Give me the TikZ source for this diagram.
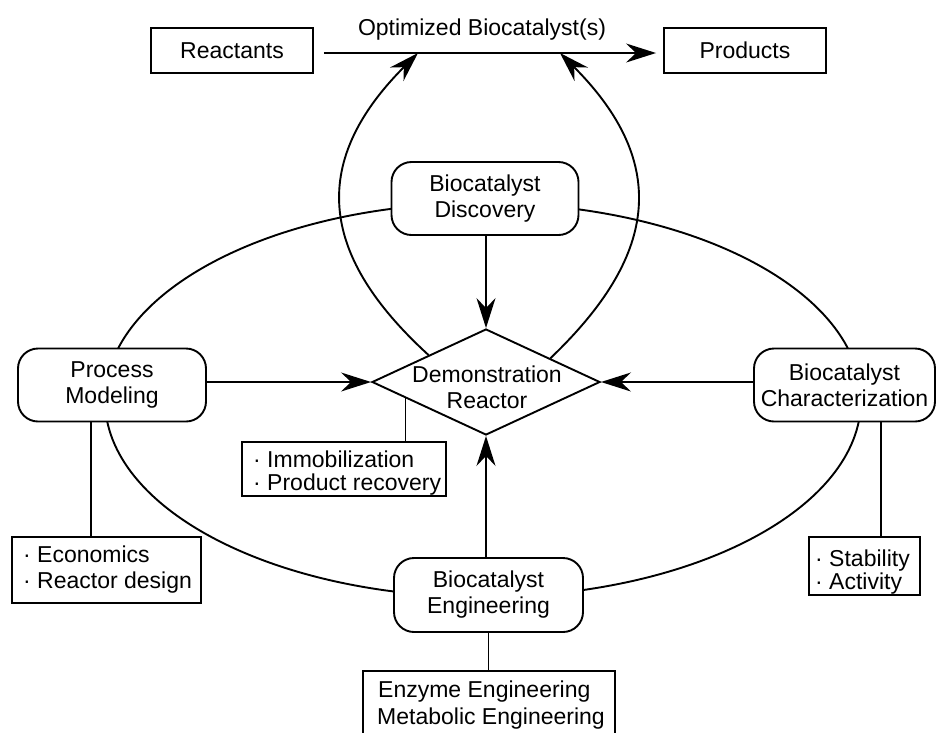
\documentclass[tikz,border=0pt]{standalone}
\usepackage{fontspec}
\setmainfont{Liberation Sans}
\usetikzlibrary{arrows.meta,shapes.geometric,calc}
\begin{document}
\begin{tikzpicture}[x=1pt,y=-1pt,
  every node/.style={font=\fontsize{23}{26}\selectfont},
  ln/.style={line width=1.9pt},
  sq/.style={draw, ln, fill=white, inner sep=0pt},
  rbox/.style={draw, ln, rounded corners=20pt, fill=white, align=center, inner sep=0pt},
  txt/.style={anchor=base west, inner sep=0pt},
  arr/.style={-{Stealth[length=30pt,width=19pt,inset=10pt]}, ln}]
\useasboundingbox (0,0) rectangle (936,732);
% big ellipse (behind the nodes)
\draw[ln] (483,400) ellipse [x radius=378, y radius=197];
% top row
\node[sq, minimum width=162pt, minimum height=45pt] (react) at (232,50.5) {Reactants};
\node[sq, minimum width=162pt, minimum height=45pt] (prod) at (745,50.5) {Products};
\node[anchor=base] (opt) at (482,35) {Optimized Biocatalyst(s)};
% rounded boxes
\node[rbox, minimum width=187pt, minimum height=73pt] (disc) at (485,198.5) {Biocatalyst\\Discovery};
\node[rbox, minimum width=188pt, minimum height=73pt] (pm) at (112,385) {Process\\Modeling};
\node[rbox, minimum width=181pt, minimum height=73pt] (char) at (844.5,385) {Biocatalyst\\Characterization};
\node[rbox, minimum width=189pt, minimum height=74pt] (eng) at (488.5,595) {Biocatalyst\\Engineering};
% diamond
\node[diamond, draw, ln, fill=white, inner sep=0pt, minimum width=228pt, minimum height=106pt] (dia) at (486,382) {};
\node[align=center] (diat) at (487,387.5) {Demonstration\\Reactor};
% bullet boxes
\node[sq, minimum width=204pt, minimum height=54pt] (imm) at (344,469) {};
\node[txt] (imm1) at (253,467) {· Immobilization};
\node[txt] (imm2) at (253,490) {· Product recovery};
\node[sq, minimum width=189pt, minimum height=66pt] (econ) at (106.5,570) {};
\node[txt] (econ1) at (23,562) {· Economics};
\node[txt] (econ2) at (23,588) {· Reactor design};
\node[sq, minimum width=111pt, minimum height=58pt] (stab) at (864.5,566) {};
\node[txt] (stab1) at (815,566) {· Stability};
\node[txt] (stab2) at (815,589) {· Activity};
\node[sq, minimum width=252pt, minimum height=69pt] (enz) at (489,705.5) {};
\node[txt] (enz1) at (378,697) {Enzyme Engineering};
\node[txt] (enz2) at (377,724) {Metabolic Engineering};
% top arrow
\coordinate (tl) at (418,53);
\coordinate (tr) at (560,53);
\draw[arr] ([xshift=10pt,yshift=-2.5pt]react.east) -- ([xshift=-7pt,yshift=-2.5pt]prod.west);
% curved arrows
\draw[arr] ($(dia.west)!0.5!(dia.north)$) .. controls (330,265) and (300,171) .. (tl);
\draw[arr] ($(dia.north)!0.56!(dia.east)$) .. controls (648,265) and (678,171) .. (tr);
% arrows into the reactor
\draw[arr] (disc.south -| dia.north) -- (dia.north);
\draw[arr] (pm.east |- dia.west) -- (dia.west);
\draw[arr] (char.west |- dia.east) -- (dia.east);
\draw[arr] (eng.north -| dia.south) -- (dia.south);
% plain connectors
\coordinate (immtop) at ($(dia.west)!0.3!(dia.south)$);
\draw[ln] (immtop) -- (immtop |- imm.north);
\draw[ln] ([xshift=-21pt]pm.south) -- ([xshift=-21pt]pm.south |- econ.north);
\draw[ln] ([xshift=36.5pt]char.south) -- ([xshift=36.5pt]char.south |- stab.north);
\draw[ln] (eng.south) -- (eng.south |- enz.north);
\end{tikzpicture}
\end{document}
